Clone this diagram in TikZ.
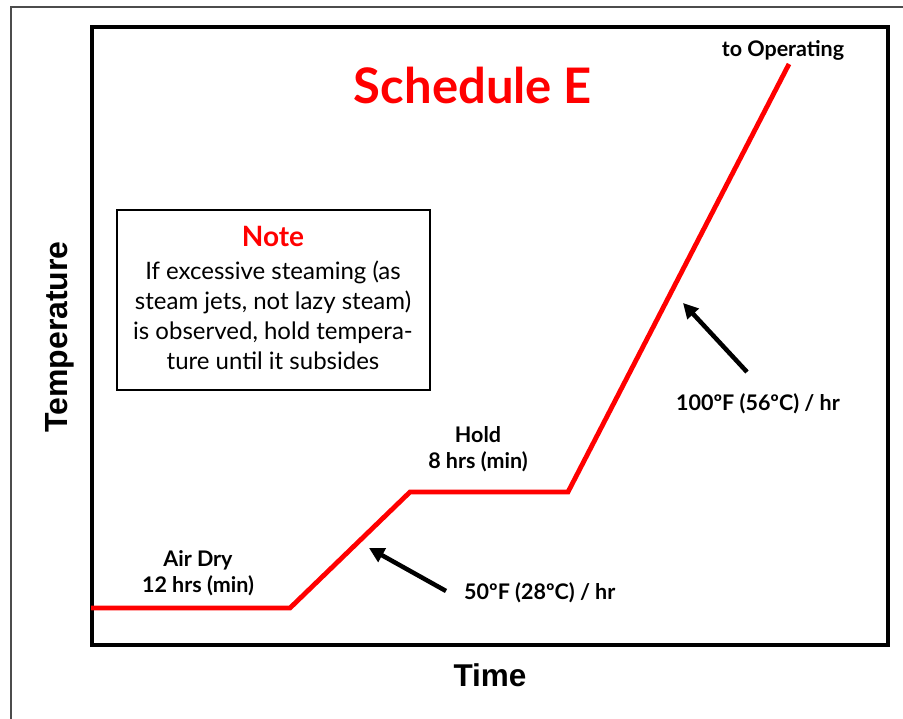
\documentclass[tikz,border=0pt]{standalone}
\usepackage{fontspec}
\setmainfont{Lato}
\newfontfamily\arialfont{Liberation Sans}
\usetikzlibrary{arrows.meta}
\begin{document}
\begin{tikzpicture}[x=1pt,y=-1pt,
  redline/.style={draw=red,line width=4.8pt,line join=miter},
  pointer/.style={draw=black,line width=4.5pt,-{Triangle[length=15pt,width=15pt]}},
  lbl/.style={font=\bfseries\fontsize{21.5}{25.5}\selectfont,align=center,inner sep=0pt},
  notebox/.style={draw=black,line width=2pt,minimum width=313pt,minimum height=180pt,inner sep=0pt}]
\useasboundingbox (0,0) rectangle (903,719);
% outer page frame
\draw[line width=1.5pt,black!70] (11,719) -- (11,7) -- (903,7);
% plot frame
\node[draw=black,line width=4pt,minimum width=796pt,minimum height=618pt,inner sep=0pt] (frame) at (489.5,336) {};
% axis labels
\node[font=\arialfont\bfseries\fontsize{32}{36}\selectfont,rotate=90] (ylab) at (60,337) {Temperature};
\node[font=\arialfont\bfseries\fontsize{31.5}{36}\selectfont] (xlab) at (490,675) {Time};
% title
\node[font=\bfseries\fontsize{49}{55}\selectfont,text=red] (title) at (473,85) {Schedule E};
% curve
\coordinate (p0) at (91,608);
\coordinate (p1) at (290,608);
\coordinate (p2) at (410,492);
\coordinate (p3) at (568,492);
\coordinate (p4) at (789,64);
\draw[redline] (p0) -- (p1) -- (p2) -- (p3) -- (p4);
% labels
\node[lbl] (op) at (783,50) {to Operating};
\node[lbl] (air) at (198,573) {Air Dry\\12 hrs (min)};
\node[lbl] (hold) at (478,449) {Hold\\8 hrs (min)};
\node[lbl,anchor=west] (r1) at (464,593) {50ºF (28ºC) / hr};
\node[lbl,anchor=west] (r2) at (676,404) {100ºF (56ºC) / hr};
% arrows
\coordinate (a1t) at (446,591);
\coordinate (a1h) at (369,548);
\coordinate (a2t) at (747,372);
\coordinate (a2h) at (683,303);
\draw[pointer] (a1t) -- (a1h);
\draw[pointer] (a2t) -- (a2h);
% note box
\node[notebox] (note) at (273,300) {};
\node[font=\bfseries\fontsize{28}{32}\selectfont,text=red] (notet) at (273,236) {Note};
\node[font=\fontsize{24}{30}\selectfont,align=center] (noteb) at (273,315) {If excessive steaming (as\\steam jets, not lazy steam)\\is observed, hold tempera-\\ture until it subsides};
\end{tikzpicture}
\end{document}
